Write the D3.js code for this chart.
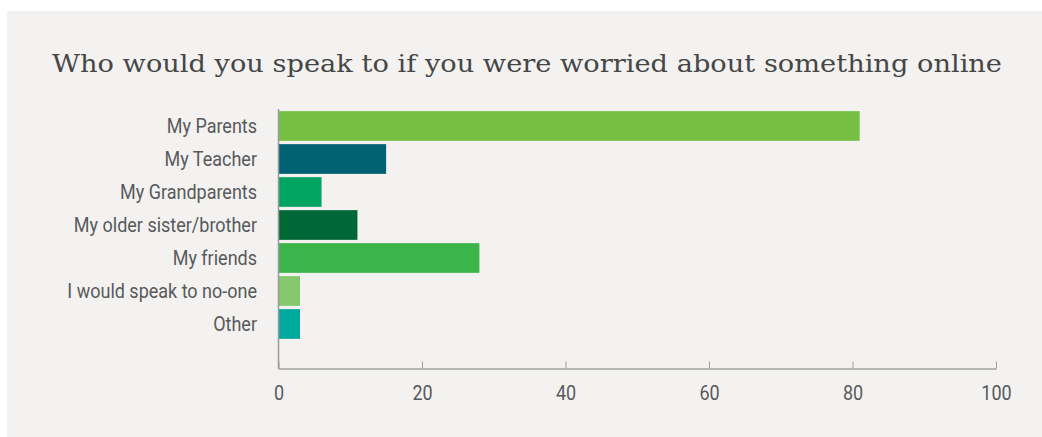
<!DOCTYPE html>
<html>
<head>
<meta charset="utf-8">
<script src="https://cdn.jsdelivr.net/npm/d3@7"></script>
<style>
  html, body { margin: 0; padding: 0; background: #ffffff; }
  svg { display: block; }
</style>
</head>
<body>
<svg id="chart" width="1042" height="437"></svg>
<script>
// Survey answers: who children would speak to if worried about something online (%)
const categories = [
  "My Parents",
  "My Teacher",
  "My Grandparents",
  "My older sister/brother",
  "My friends",
  "I would speak to no-one",
  "Other"
];
const values = [81, 15, 6, 11, 28, 3, 3];
const barColors = ["#76bf43", "#006272", "#00a562", "#006837", "#3bb44a", "#86c86e", "#00a99d"];
const tickValues = [0, 20, 40, 60, 80, 100];
const title = "Who would you speak to if you were worried about something online";

const labelFont = "Roboto, 'Liberation Sans', sans-serif";
const narrow = 0.9; // horizontal squeeze for a condensed look

const svg = d3.select("#chart");

// panel background
svg.append("rect")
  .attr("x", 7).attr("y", 11)
  .attr("width", 1035).attr("height", 426)
  .attr("fill", "#f3f2f0");

// title
svg.append("text")
  .attr("x", 527).attr("y", 72)
  .attr("text-anchor", "middle")
  .attr("font-family", "'DejaVu Serif', serif")
  .attr("font-size", 25)
  .attr("fill", "#464646")
  .attr("textLength", 950)
  .attr("lengthAdjust", "spacingAndGlyphs")
  .text(title);

const x = d3.scaleLinear().domain([0, 100]).range([278.5, 996]);
const y = d3.scaleBand().domain(categories).range([109.5, 340.5]).paddingInner(0.1).paddingOuter(0.05);

const rows = categories.map((c, i) => ({ cat: c, v: values[i], color: barColors[i] }));

// bars
svg.append("g").selectAll("rect")
  .data(rows)
  .join("rect")
  .attr("x", x(0))
  .attr("y", d => y(d.cat))
  .attr("width", d => x(d.v) - x(0))
  .attr("height", y.bandwidth())
  .attr("fill", d => d.color);

// category labels
svg.append("g").selectAll("text")
  .data(rows)
  .join("text")
  .attr("transform", d => `translate(257,${y(d.cat) + y.bandwidth() / 2}) scale(${narrow},1)`)
  .attr("dy", "0.36em")
  .attr("text-anchor", "end")
  .attr("font-family", labelFont)
  .attr("font-size", 20)
  .attr("fill", "#58595b")
  .text(d => d.cat);

// vertical axis line
svg.append("line")
  .attr("x1", x(0)).attr("x2", x(0))
  .attr("y1", 109).attr("y2", 369)
  .attr("stroke", "#9a9a9a").attr("stroke-width", 1.5);

// horizontal axis
const xAxis = d3.axisBottom(x).tickValues(tickValues).tickSize(-7).tickPadding(0).tickSizeOuter(0);
const gx = svg.append("g")
  .attr("transform", "translate(0,368.5)")
  .call(xAxis);
gx.select(".domain").attr("stroke", "#a0a0a0").attr("stroke-width", 1.5);
gx.selectAll(".tick line").attr("stroke", "#a0a0a0").attr("stroke-width", 1);
gx.selectAll(".tick text")
  .attr("y", null)
  .attr("dy", null)
  .attr("transform", `translate(0,31) scale(${narrow},1)`)
  .attr("font-family", labelFont)
  .attr("font-size", 20)
  .attr("fill", "#58595b");
</script>
</body>
</html>
